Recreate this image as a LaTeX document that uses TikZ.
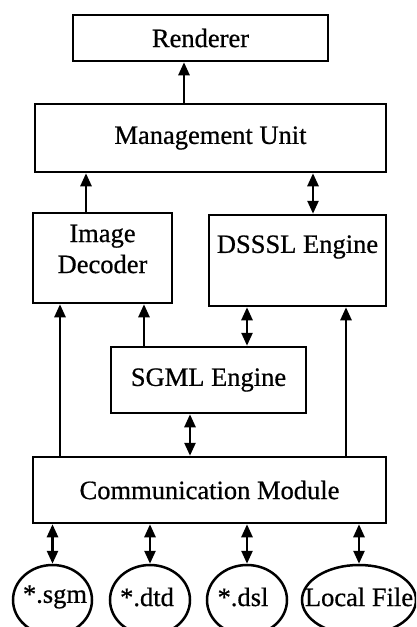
\documentclass[tikz,border=0pt]{standalone}
\usepackage{fontspec}
\newfontface\diafont{Liberation Serif}[FakeBold=0.6]
\usetikzlibrary{arrows.meta,shapes.geometric}

\tikzset{
  box/.style={draw, line width=2.5pt, rectangle, inner sep=0pt},
  file/.style={draw, line width=2.5pt, ellipse, inner sep=0pt, minimum height=70pt},
  txt/.style={inner sep=0pt, align=center, font=\diafont\fontsize{26.5}{31}\selectfont},
  tip/.style={Triangle[length=13pt,width=11pt]},
  arr/.style={line width=2.5pt, -{Triangle[length=13pt,width=11pt]}},
  darr/.style={line width=2.5pt, {Triangle[length=13pt,width=11pt]}-{Triangle[length=13pt,width=11pt]}}
}

\begin{document}
\begin{tikzpicture}[x=1pt, y=-1pt]
\clip (0,0) rectangle (416,627);
\fill[white] (0,0) rectangle (416,627);

% processing blocks
\node[box, minimum width=255pt, minimum height=46pt] (ren) at (200.5,38) {};
\node[txt] (rentext) at (ren) {Renderer};
\node[box, minimum width=351pt, minimum height=68pt] (mu) at (210.5,138) {};
\node[txt] (mutext) at (mu) {Management Unit};
\node[box, minimum width=139pt, minimum height=90pt] (id) at (102.5,258) {};
\node[txt] (idtext) at (102.5,249) {Image\\Decoder};
\node[box, minimum width=177pt, minimum height=91pt] (ds) at (297.5,260.5) {};
\node[txt] (dstext) at (297.5,247) {DSSSL Engine};
\node[box, minimum width=195pt, minimum height=66pt] (sg) at (208.5,380) {};
\node[txt] (sgtext) at (sg) {SGML Engine};
\node[box, minimum width=353pt, minimum height=66pt] (cm) at (209.5,490) {};
\node[txt] (cmtext) at (cm) {Communication Module};

% data sources
\node[file, minimum width=79pt] (f1) at (52.5,600) {};
\node[txt] (f1text) at (55,597) {*.sgm};
\node[file, minimum width=80pt] (f2) at (150,600) {};
\node[txt] (f2text) at (147,597) {*.dtd};
\node[file, minimum width=80pt] (f3) at (247,600) {};
\node[txt] (f3text) at (243,597) {*.dsl};
\node[file, minimum width=114pt] (f4) at (359,600) {};
\node[txt] (f4text) at (359,597) {Local File};

% vertical lanes of the connectors
\coordinate (l1) at (184,0);
\coordinate (l2) at (86,0);
\coordinate (l3) at (313,0);
\coordinate (l4) at (60,0);
\coordinate (l5) at (144,0);
\coordinate (l6) at (247,0);
\coordinate (l7) at (346,0);
\coordinate (l8) at (190,0);

\draw[arr]  (mu.north -| l1) -- (ren.south -| l1);
\draw[arr]  (id.north -| l2) -- (mu.south -| l2);
\draw[darr] (mu.south -| l3) -- (ds.north -| l3);
\draw[arr]  (cm.north -| l4) -- (id.south -| l4);
\draw[arr]  (sg.north -| l5) -- (id.south -| l5);
\draw[darr] (ds.south -| l6) -- (sg.north -| l6);
\draw[arr]  (cm.north -| l7) -- (ds.south -| l7);
\draw[darr] (sg.south -| l8) -- (cm.north -| l8);

\draw[darr] (cm.south -| f1.north) -- (f1.north);
\draw[darr] (cm.south -| f2.north) -- (f2.north);
\draw[darr] (cm.south -| f3.north) -- (f3.north);
\draw[darr] (cm.south -| f4.north) -- (f4.north);
\end{tikzpicture}
\end{document}
